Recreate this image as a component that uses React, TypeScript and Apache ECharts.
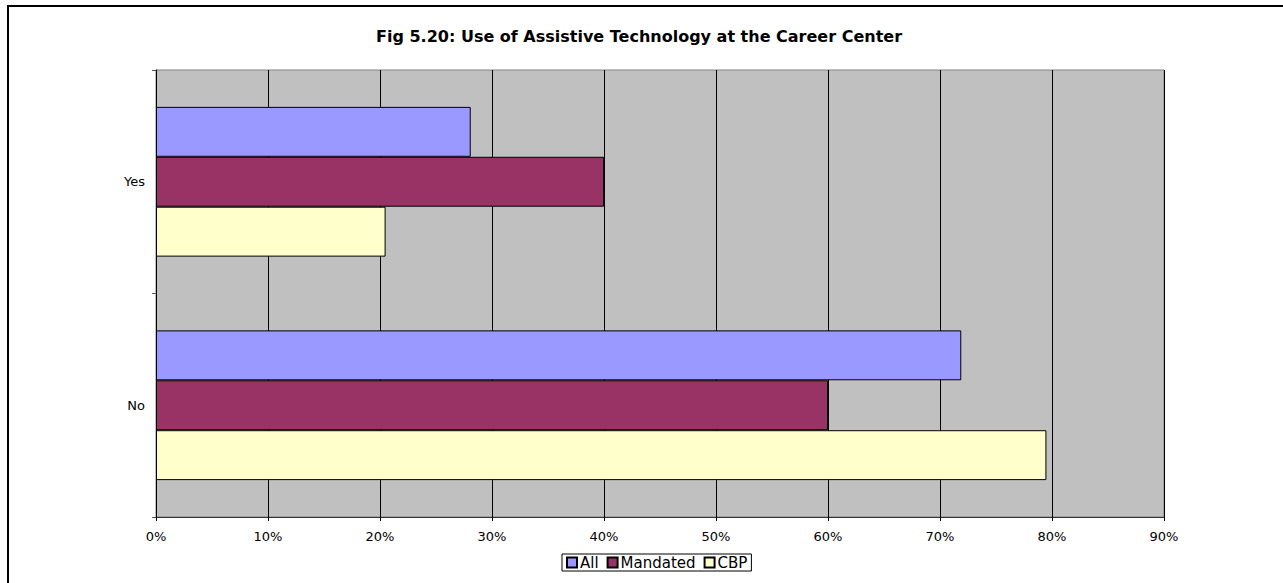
import React, { useEffect, useRef } from "react";
import * as echarts from "echarts";

const categories = ["Yes", "No"];
const seriesNames = ["All", "Mandated", "CBP"];
const allValues = [28.1, 71.9];
const mandatedValues = [40, 60];
const cbpValues = [20.5, 79.5];
const xTicks = [0, 10, 20, 30, 40, 50, 60, 70, 80, 90];
const colors = ["#9999FF", "#993366", "#FFFFCC"];
const titleText = "Fig 5.20: Use of Assistive Technology at the Career Center";

export default function App() {
  const ref = useRef<HTMLDivElement>(null);
  useEffect(() => {
    document.body.style.margin = "0";
    const chart = echarts.init(ref.current!, null, { renderer: "svg" });
    const font = "'DejaVu Sans', Arial, sans-serif";
    const values = [allValues, mandatedValues, cbpValues];
    chart.setOption({
      animation: false,
      backgroundColor: "#FFFFFF",
      textStyle: { fontFamily: font, color: "#000" },
      title: {
        text: titleText,
        left: 376,
        top: 28,
        padding: 0,
        textStyle: { fontFamily: font, fontSize: 16, fontWeight: "bold", color: "#000" },
      },
      legend: {
        data: seriesNames,
        left: 562,
        top: 554,
        padding: [1, 4, 1, 4],
        itemWidth: 10,
        itemHeight: 10,
        itemGap: 8,
        borderColor: "#000",
        borderWidth: 1,
        borderRadius: 0,
        icon: "rect",
        textStyle: { fontFamily: font, fontSize: 15, color: "#000", padding: [0, 0, 0, -2] },
      },
      graphic: [
        {
          type: "rect",
          shape: { x: 8, y: 6, width: 1300, height: 600 },
          style: { fill: "none", stroke: "#000", lineWidth: 2 },
          silent: true,
        },
      ],
      grid: {
        left: 156,
        top: 70,
        width: 1008,
        height: 447,
        show: true,
        backgroundColor: "#C0C0C0",
        borderColor: "#808080",
        borderWidth: 1,
      },
      xAxis: {
        type: "value",
        min: xTicks[0],
        max: xTicks[xTicks.length - 1],
        interval: 10,
        axisLine: { show: true, lineStyle: { color: "#333", width: 1 } },
        axisTick: { show: true, length: 4, lineStyle: { color: "#000" } },
        splitLine: { show: true, lineStyle: { color: "#000", width: 1 } },
        axisLabel: {
          formatter: "{value}%",
          fontFamily: font,
          fontSize: 13,
          color: "#000",
          margin: 13,
        },
      },
      yAxis: {
        type: "category",
        data: categories,
        inverse: true,
        axisLine: { show: true, lineStyle: { color: "#000", width: 1 } },
        axisTick: { show: true, length: 4, lineStyle: { color: "#555" } },
        axisLabel: { fontFamily: font, fontSize: 13, color: "#000", margin: 11 },
        splitLine: { show: false },
      },
      series: seriesNames.map((name, i) => ({
        name,
        type: "bar",
        data: values[i],
        barGap: "0%",
        barCategoryGap: "33%",
        itemStyle: { color: colors[i], borderColor: "#000", borderWidth: 1 },
      })),
    });
    return () => chart.dispose();
  }, []);
  return <div ref={ref} style={{ width: 1283, height: 583 }} />;
}
